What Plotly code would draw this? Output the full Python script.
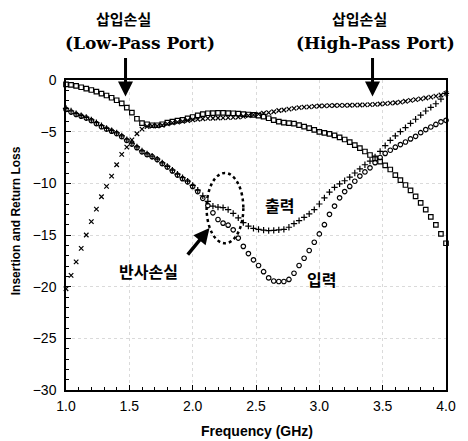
import plotly.graph_objects as go

freq = [1.00, 1.04, 1.08, 1.12, 1.16, 1.20, 1.24, 1.28, 1.32, 1.36, 1.40, 1.44, 1.48, 1.52, 1.56,
        1.60, 1.64, 1.68, 1.72, 1.76, 1.80, 1.84, 1.88, 1.92, 1.96, 2.00, 2.04, 2.08, 2.12, 2.16,
        2.20, 2.24, 2.28, 2.32, 2.36, 2.40, 2.44, 2.48, 2.52, 2.56, 2.60, 2.64, 2.68, 2.72, 2.76,
        2.80, 2.84, 2.88, 2.92, 2.96, 3.00, 3.04, 3.08, 3.12, 3.16, 3.20, 3.24, 3.28, 3.32, 3.36,
        3.40, 3.44, 3.48, 3.52, 3.56, 3.60, 3.64, 3.68, 3.72, 3.76, 3.80, 3.84, 3.88, 3.92, 3.96,
        4.00]

# Insertion loss, low-pass port (squares)
lp_insertion = [-0.42, -0.48, -0.57, -0.70, -0.84, -0.97, -1.13, -1.32, -1.50, -1.72, -1.96, -2.26,
                -2.68, -3.16, -3.75, -4.18, -4.28, -4.38, -4.38, -4.28, -4.12, -4.02, -3.94, -3.85,
                -3.72, -3.58, -3.42, -3.30, -3.22, -3.20, -3.18, -3.18, -3.20, -3.22, -3.26, -3.30,
                -3.34, -3.38, -3.45, -3.55, -3.70, -3.88, -4.02, -4.12, -4.18, -4.22, -4.36, -4.52,
                -4.65, -4.82, -5.02, -5.12, -5.22, -5.35, -5.55, -5.76, -6.02, -6.30, -6.60, -6.92,
                -7.26, -7.58, -7.90, -8.26, -8.66, -9.20, -9.68, -10.16, -10.68, -11.26, -11.90,
                -12.55, -13.25, -14.02, -14.90, -15.80]

# Insertion loss, high-pass port (x markers)
hp_insertion = [-20.2, -18.9, -17.6, -16.3, -15.0, -13.7, -12.5, -11.3, -10.3, -9.3, -8.2, -7.2,
                -6.5, -5.8, -5.2, -4.75, -4.5, -4.45, -4.45, -4.38, -4.25, -4.15, -4.08, -4.0,
                -3.92, -3.85, -3.8, -3.75, -3.72, -3.7, -3.68, -3.66, -3.64, -3.62, -3.58, -3.52,
                -3.45, -3.38, -3.3, -3.22, -3.15, -3.07, -2.95, -2.9, -2.82, -2.75, -2.68, -2.62,
                -2.6, -2.56, -2.52, -2.5, -2.48, -2.47, -2.46, -2.45, -2.44, -2.43, -2.42, -2.4,
                -2.38, -2.36, -2.32, -2.28, -2.24, -2.2, -2.14, -2.06, -1.97, -1.9, -1.82, -1.74,
                -1.65, -1.56, -1.45, -1.3]

# Return loss, input (circles)
input_return = [-2.85, -3.1, -3.33, -3.5, -3.68, -3.93, -4.22, -4.52, -4.75, -4.95, -5.18, -5.48,
                -5.85, -6.2, -6.55, -6.95, -7.22, -7.42, -7.7, -8.1, -8.42, -8.8, -9.2, -9.55,
                -9.85, -10.3, -10.8, -11.45, -12.15, -12.85, -13.5, -13.85, -14.05, -14.5, -15.3,
                -16.1, -16.8, -17.4, -17.95, -18.55, -19.15, -19.45, -19.5, -19.5, -19.3, -18.7,
                -17.95, -17.25, -16.5, -15.7, -14.9, -14.0, -13.0, -12.2, -11.4, -10.8, -10.3,
                -9.8, -9.3, -8.9, -8.5, -8.0, -7.5, -7.1, -6.8, -6.5, -6.25, -6.0, -5.7, -5.45,
                -5.1, -4.8, -4.55, -4.3, -4.05, -3.9]

# Return loss, output (plus markers)
output_return = [-2.75, -3.0, -3.25, -3.45, -3.62, -3.85, -4.12, -4.42, -4.68, -4.9, -5.12, -5.4,
                 -5.78, -6.12, -6.48, -6.85, -7.15, -7.38, -7.65, -8.02, -8.35, -8.72, -9.1, -9.45,
                 -9.78, -10.2, -10.65, -11.2, -11.75, -12.2, -12.3, -12.35, -12.55, -12.9, -13.35,
                 -13.8, -14.15, -14.35, -14.45, -14.52, -14.58, -14.55, -14.5, -14.45, -14.25,
                 -13.9, -13.6, -13.3, -12.95, -12.55, -12.0, -11.4, -10.85, -10.4, -10.05, -9.75,
                 -9.4, -9.0, -8.6, -8.2, -7.85, -7.45, -6.9, -6.35, -5.85, -5.4, -5.0, -4.6, -4.2,
                 -3.8, -3.4, -3.0, -2.65, -2.3, -1.85, -1.3]

x_tickvals = [1.0, 1.5, 2.0, 2.5, 3.0, 3.5, 4.0]
x_ticktext = ["1.0", "1.5", "2.0", "2.5", "3.0", "3.5", "4.0"]
y_tickvals = [0, -5, -10, -15, -20, -25, -30]
y_ticktext = ["0", "\u22125", "\u221210", "\u221215", "\u221220", "\u221225", "\u221230"]

fig = go.Figure()
series = [
    (lp_insertion, "square-open", 4.5),
    (hp_insertion, "x-thin-open", 4.5),
    (input_return, "circle-open", 4.5),
    (output_return, "cross-thin-open", 4.5),
]
for vals, sym, sz in series:
    fig.add_trace(go.Scatter(
        x=freq, y=vals, mode="markers",
        marker=dict(symbol=sym, size=sz, color="black", line=dict(color="black", width=1.2)),
        showlegend=False, cliponaxis=False))

tickfont = dict(family="Liberation Sans, Arial", size=14, color="black")
fig.update_xaxes(range=[1.0, 4.0], tickvals=x_tickvals, ticktext=x_ticktext, tickfont=tickfont,
                 showline=True, linecolor="black", linewidth=1.5, mirror=True,
                 ticks="inside", ticklen=5, tickcolor="black", tickwidth=1,
                 minor=dict(dtick=0.1, ticks="inside", ticklen=3, tickcolor="black", showgrid=False),
                 showgrid=True, gridcolor="#dadada", griddash="dot", gridwidth=1,
                 zeroline=False, ticklabelstandoff=2)
fig.update_yaxes(range=[-30, 0], tickvals=y_tickvals, ticktext=y_ticktext, tickfont=tickfont,
                 showline=True, linecolor="black", linewidth=1.5, mirror=True,
                 ticks="inside", ticklen=5, tickcolor="black", tickwidth=1,
                 minor=dict(dtick=1, ticks="inside", ticklen=3, tickcolor="black", showgrid=False),
                 showgrid=True, gridcolor="#dadada", griddash="dot", gridwidth=1,
                 zeroline=False, ticklabelstandoff=5)

kr = "Noto Sans CJK KR"
serif = "DejaVu Serif"
ann = []
# axis titles
ann.append(dict(text="<b>Frequency (GHz)</b>", xref="paper", yref="paper", x=0.5026, y=-0.132,
                xanchor="center", yanchor="middle", showarrow=False,
                font=dict(family="Liberation Sans, Arial", size=14, color="black")))
ann.append(dict(text="<b>Insertion and Return Loss</b>", xref="paper", yref="paper", x=-0.131, y=0.545,
                xanchor="center", yanchor="middle", showarrow=False, textangle=-90,
                font=dict(family="Liberation Sans, Arial", size=12, color="black")))
# top labels (paper coordinates, above the plot area)
ann.append(dict(text="<b>삽입손실</b>", xref="paper", yref="paper", x=0.1517, y=1.2,
                xanchor="center", yanchor="middle", showarrow=False,
                font=dict(family=kr, size=15, color="black")))
ann.append(dict(text="<b>(Low-Pass Port)</b>", xref="paper", yref="paper", x=0.1954, y=1.119,
                xanchor="center", yanchor="middle", showarrow=False,
                font=dict(family=serif, size=17, color="black")))
ann.append(dict(text="<b>삽입손실</b>", xref="paper", yref="paper", x=0.7712, y=1.2,
                xanchor="center", yanchor="middle", showarrow=False,
                font=dict(family=kr, size=15, color="black")))
ann.append(dict(text="<b>(High-Pass Port)</b>", xref="paper", yref="paper", x=0.815, y=1.119,
                xanchor="center", yanchor="middle", showarrow=False,
                font=dict(family=serif, size=17, color="black")))
# arrows from top labels
for xa in (1.47, 3.42):
    ann.append(dict(text="", xref="x", yref="y", x=xa, y=-1.6, ax=0, ay=-40, showarrow=True,
                    arrowhead=2, arrowwidth=3, arrowsize=1, arrowcolor="black"))
# in-plot labels
ann.append(dict(text="<b>출력</b>", xref="x", yref="y", x=2.689, y=-12.1, showarrow=False,
                font=dict(family=kr, size=16, color="black")))
ann.append(dict(text="<b>입력</b>", xref="x", yref="y", x=3.02, y=-19.26, showarrow=False,
                font=dict(family=kr, size=16, color="black")))
ann.append(dict(text="<b>반사손실</b>", xref="x", yref="y", x=1.655, y=-18.5, showarrow=False,
                font=dict(family=kr, size=16, color="black")))
ann.append(dict(text="", xref="x", yref="y", x=2.133, y=-14.33, ax=-23, ay=28, showarrow=True,
                arrowhead=2, arrowwidth=3.5, arrowsize=0.9, arrowcolor="black"))

fig.add_shape(type="circle", xref="x", yref="y", x0=2.11, x1=2.40, y0=-15.8, y1=-9.0,
              line=dict(color="black", width=2.5, dash="dot"))

fig.update_layout(width=468, height=441, margin=dict(l=66, r=13, t=80, b=51),
                  paper_bgcolor="white", plot_bgcolor="white", annotations=ann)
fig.write_html("out.html")
